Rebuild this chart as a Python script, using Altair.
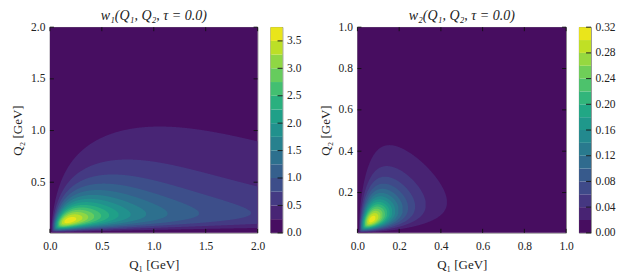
import numpy as np
import pandas as pd
import altair as alt

# physical constants (GeV)
M_MU = 0.1056583745
M_PI = 0.1349770
TAU = 0.0

# panel ranges
w1_q1_range = [0.0, 2.0]
w1_q2_range = [0.01, 2.0]
w2_q1_range = [0.0, 1.0]
w2_q2_range = [0.005, 1.0]

# contour levels
w1_levels = [0.0, 0.25, 0.5, 0.75, 1.0, 1.25, 1.5, 1.75, 2.0, 2.25, 2.5, 2.75, 3.0, 3.25, 3.5, 3.75]
w2_levels = [0.0, 0.02, 0.04, 0.06, 0.08, 0.10, 0.12, 0.14, 0.16, 0.18, 0.20, 0.22, 0.24, 0.26, 0.28, 0.30, 0.32]

# tick values
w1_xticks = [0.0, 0.5, 1.0, 1.5, 2.0]
w1_yticks = [0.5, 1.0, 1.5, 2.0]
w1_cticks = [0.0, 0.5, 1.0, 1.5, 2.0, 2.5, 3.0, 3.5]
w2_xticks = [0.0, 0.2, 0.4, 0.6, 0.8, 1.0]
w2_yticks = [0.2, 0.4, 0.6, 0.8, 1.0]
w2_cticks = [0.0, 0.04, 0.08, 0.12, 0.16, 0.20, 0.24, 0.28, 0.32]

FONT = "Liberation Serif"
PW1, PW2, PH = 208, 209, 206
CBW = 12


def weights(Q1, Q2, tau=TAU):
    m2 = M_MU ** 2
    d12 = Q1 * Q2 * tau
    Q3sq = Q1 ** 2 + 2 * d12 + Q2 ** 2
    P1, P2, P3 = 1 / Q1 ** 2, 1 / Q2 ** 2, 1 / Q3sq
    R1 = np.sqrt(1 + 4 * m2 / Q1 ** 2)
    R2 = np.sqrt(1 + 4 * m2 / Q2 ** 2)
    x = np.sqrt(1 - tau ** 2)
    z = Q1 * Q2 / (4 * m2) * (1 - R1) * (1 - R2)
    X = np.arctan(z * x / (1 - z * tau)) / (Q1 * Q2 * x)
    I1 = (X * (8 * P1 * P2 * d12 - 2 * P1 * P3 * (Q2 ** 4 / m2 - 2 * Q2 ** 2)
               - 2 * P1 * (2 - Q2 ** 2 / m2 + 2 * d12 / m2) + 4 * P2 * P3 * Q1 ** 2 - 4 * P2
               - 2 * P3 * (4 + Q1 ** 2 / m2 - 2 * Q2 ** 2 / m2) + 2 / m2)
          - 2 * P1 * P2 * (1 + (1 - R1) * d12 / m2) + P1 * P3 * (2 - (1 - R1) * Q2 ** 2 / m2)
          + P1 * (1 - R1) / m2 + P2 * P3 * (2 + (1 - R1) ** 2 * d12 / m2) + 3 * P3 * (1 - R1) / m2)
    I2 = (X * (4 * P1 * P2 * d12 + 2 * P1 * P3 * Q2 ** 2 - 2 * P1 + 2 * P2 * P3 * Q1 ** 2
               - 2 * P2 - 4 * P3 - 4 / m2)
          - 2 * P1 * P2 - 3 * P1 * (1 - R2) / (2 * m2) - 3 * P2 * (1 - R1) / (2 * m2)
          - P3 * (2 - R1 - R2) / (2 * m2)
          + P1 * P3 * (2 + 3 * (1 - R2) * Q2 ** 2 / (2 * m2) - (1 - R2) ** 2 * d12 / (2 * m2))
          + P2 * P3 * (2 + 3 * (1 - R1) * Q1 ** 2 / (2 * m2) - (1 - R1) ** 2 * d12 / (2 * m2)))
    pref = -2 * np.pi / 3 * x * Q1 ** 3 * Q2 ** 3
    w1 = pref / (Q2 ** 2 + M_PI ** 2) * I1
    w2 = pref / (Q3sq + M_PI ** 2) * I2
    return w1, w2


def level_regions(q1r, q2r, which, levels, n1=500, n2=1600):
    """For every contour level, the Q2 interval where the weight exceeds it, per Q1."""
    q1 = np.linspace(q1r[0], q1r[1], n1)[1:]
    q2 = np.linspace(1e-4, q2r[1], n2)
    G1, G2 = np.meshgrid(q1, q2, indexing="ij")
    with np.errstate(all="ignore"):
        f = np.nan_to_num(weights(G1, G2)[which])
    rows = []
    for k in range(1, len(levels) - 1):
        L = levels[k]
        mid = 0.5 * (levels[k] + levels[k + 1])
        for i in range(len(q1)):
            fi = f[i]
            above = np.nonzero(fi >= L)[0]
            if above.size == 0:
                continue
            a, b = above[0], above[-1]
            if a > 0:
                lo = q2[a - 1] + (L - fi[a - 1]) / (fi[a] - fi[a - 1]) * (q2[a] - q2[a - 1])
            else:
                lo = q2[0]
            if b < len(q2) - 1:
                hi = q2[b] + (fi[b] - L) / (fi[b] - fi[b + 1]) * (q2[b + 1] - q2[b])
            else:
                hi = q2[-1]
            rows.append((k, q1[i], lo, hi, mid))
    return pd.DataFrame(rows, columns=["k", "q1", "lo", "hi", "mid"])


def panel(df, title, q1r, q2r, xt, yt, levels, ct, cfmt, pw):
    top = levels[-1]
    cscale = alt.Scale(scheme="viridis", domain=[0, top])
    xs = alt.Scale(domain=q1r, nice=False, zero=False)
    ys = alt.Scale(domain=q2r, nice=False, zero=False)
    xax = alt.Axis(values=xt, format=".1f", title="Q₁ [GeV]", ticks=False, domain=False,
                   grid=False, labelPadding=8, titlePadding=6, labelFlush=False, labelOverlap=False)
    yax = alt.Axis(values=yt, format=".1f", title="Q₂ [GeV]", ticks=False, domain=False,
                   grid=False, labelPadding=5, titlePadding=6, labelFlush=False, labelOverlap=False)

    bg = alt.Chart(pd.DataFrame({"q1a": [q1r[0]], "q1b": [q1r[1]], "q2a": [q2r[0]], "q2b": [q2r[1]],
                                 "mid": [0.5 * (levels[0] + levels[1])]})).mark_rect().encode(
        x=alt.X("q1a:Q", scale=xs, axis=xax), x2="q1b:Q",
        y=alt.Y("q2a:Q", scale=ys, axis=yax), y2="q2b:Q",
        color=alt.Color("mid:Q", scale=cscale, legend=None),
    )
    areas = []
    for k in range(1, len(levels) - 1):
        areas.append(
            alt.Chart(df).transform_filter(alt.datum.k == k).mark_area(clip=True, interpolate="linear").encode(
                x=alt.X("q1:Q", scale=xs, axis=xax),
                y=alt.Y("lo:Q", scale=ys, axis=yax, stack=None),
                y2="hi:Q",
                color=alt.Color("mid:Q", scale=cscale, legend=None),
            )
        )
    tx = pd.DataFrame({"v": xt})
    ty = pd.DataFrame({"v": yt})
    tl = 4
    rules = [
        alt.Chart(tx).mark_rule(color="#111", strokeWidth=0.9).encode(
            x=alt.X("v:Q", scale=xs, axis=xax), y=alt.value(PH), y2=alt.value(PH - tl)),
        alt.Chart(tx).mark_rule(color="#111", strokeWidth=0.9).encode(
            x=alt.X("v:Q", scale=xs, axis=xax), y=alt.value(0), y2=alt.value(tl)),
        alt.Chart(ty).mark_rule(color="#111", strokeWidth=0.9).encode(
            y=alt.Y("v:Q", scale=ys, axis=yax), x=alt.value(0), x2=alt.value(tl)),
        alt.Chart(ty).mark_rule(color="#111", strokeWidth=0.9).encode(
            y=alt.Y("v:Q", scale=ys, axis=yax), x=alt.value(pw - tl), x2=alt.value(pw)),
    ]
    main = alt.layer(bg, *areas, *rules).properties(
        width=pw, height=PH,
        title=alt.Title(title, fontStyle="italic", fontWeight="normal", fontSize=14, font=FONT,
                        offset=-2, color="#222"))

    cbdf = pd.DataFrame({
        "lo": levels[:-1],
        "hi": levels[1:],
        "mid": [0.5 * (a + b) for a, b in zip(levels[:-1], levels[1:])],
    })
    cys = alt.Scale(domain=[0, top], nice=False, zero=False)
    cax = alt.Axis(orient="right", values=ct, format=cfmt, ticks=False, domain=False,
                   grid=False, title=None, labelPadding=4, labelFlush=False, labelOverlap=False)
    cb = alt.Chart(cbdf).mark_rect().encode(
        x=alt.value(0), x2=alt.value(CBW),
        y=alt.Y("lo:Q", scale=cys, axis=cax),
        y2="hi:Q",
        color=alt.Color("mid:Q", scale=cscale, legend=None),
    )
    cbt = alt.Chart(pd.DataFrame({"v": ct})).mark_rule(color="#111", strokeWidth=0.9).encode(
        y=alt.Y("v:Q", scale=cys, axis=cax), x=alt.value(CBW - 5), x2=alt.value(CBW))
    cbar = alt.layer(cb, cbt).properties(width=CBW, height=PH)
    return alt.hconcat(main, cbar, spacing=4).resolve_scale(color="independent")


df1 = level_regions(w1_q1_range, w1_q2_range, 0, w1_levels)
df2 = level_regions(w2_q1_range, w2_q2_range, 1, w2_levels)

p1 = panel(df1, "w₁(Q₁, Q₂, τ = 0.0)", w1_q1_range, w1_q2_range, w1_xticks, w1_yticks,
           w1_levels, w1_cticks, ".1f", PW1)
p2 = panel(df2, "w₂(Q₁, Q₂, τ = 0.0)", w2_q1_range, w2_q2_range, w2_xticks, w2_yticks,
           w2_levels, w2_cticks, ".2f", PW2)

chart = alt.hconcat(p1, p2, spacing=17).resolve_scale(color="independent").properties(
    padding={"left": 3, "top": 0, "right": 0, "bottom": 0}
).configure(font=FONT).configure_view(stroke="#666", strokeWidth=0.8).configure_axis(
    labelFont=FONT, labelFontSize=11.5, labelColor="#222", titleFont=FONT, titleFontSize=13,
    titleFontWeight="normal", titleColor="#222"
)

chart.save("out.html", embed_options={"renderer": "svg", "actions": False})
